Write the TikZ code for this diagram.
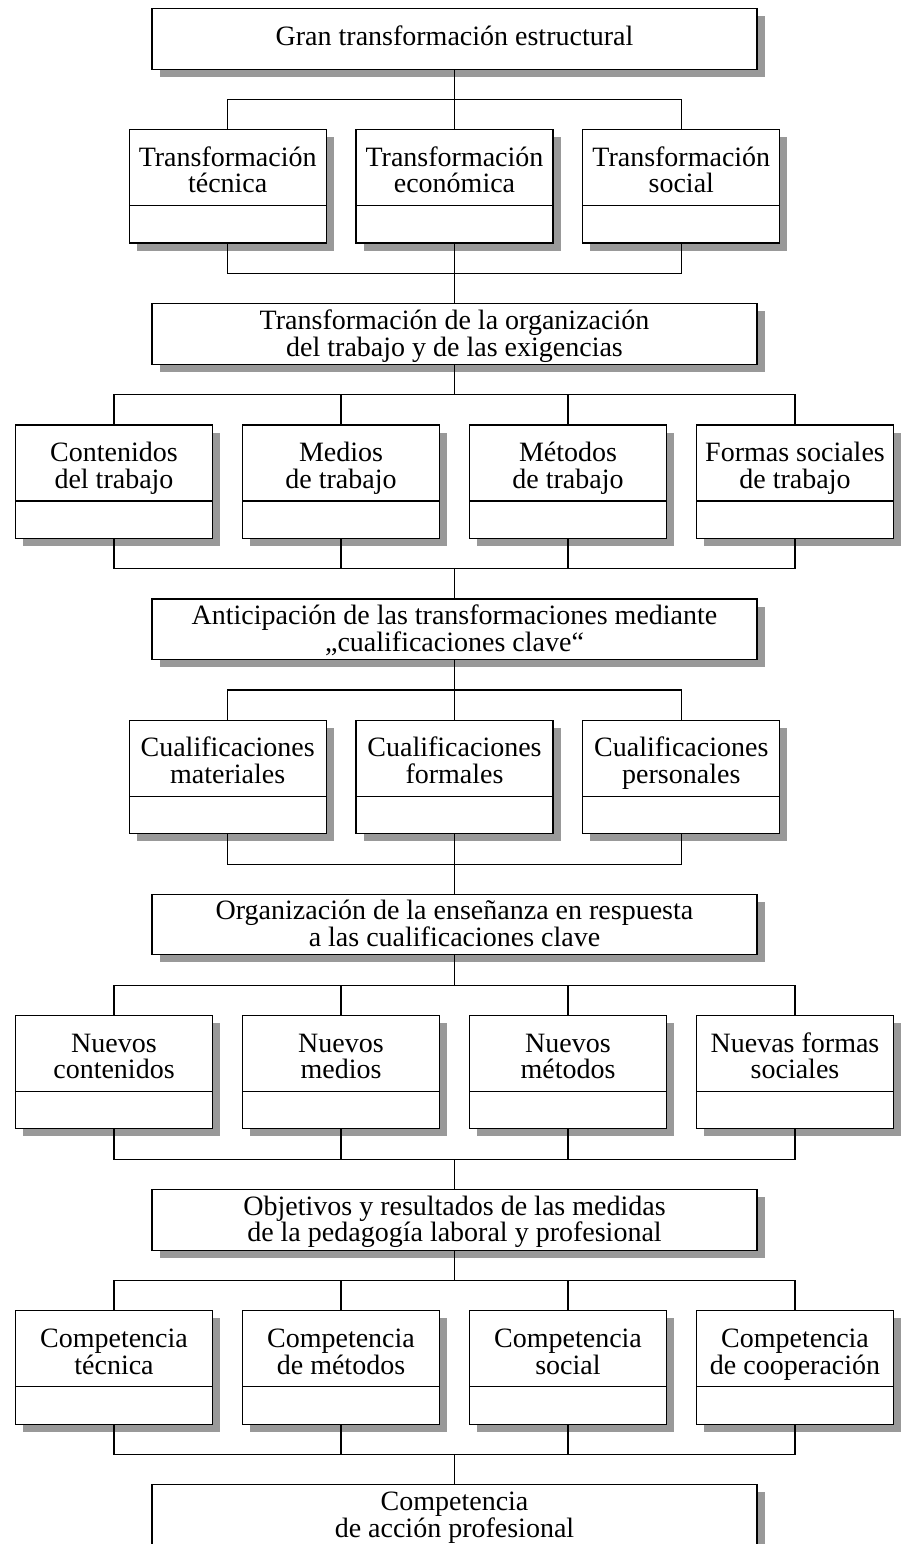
\documentclass[tikz,border=0pt]{standalone}
\usepackage{fontspec}
\setmainfont{Liberation Serif}
\usetikzlibrary{positioning,shadows}
\newcommand{\itemstrut}{\rule{0pt}{36.5pt}}
\newcommand{\stagestrut}{\rule{0pt}{25.6pt}}
\newcommand{\onestrut}{\rule{0pt}{36.4pt}}
\tikzset{
  every node/.style={font=\fontsize{28}{26.7}\selectfont},
  boxshadow/.style={drop shadow={shadow xshift=7.5pt,shadow yshift=-7.5pt,fill=black!40,opacity=1}},
  stagebox/.style={draw,line width=1.1pt,fill=white,boxshadow,outer sep=0pt,inner sep=0pt,minimum width=605pt,minimum height=60.5pt,align=center},
  stage/.style={stagebox,execute at end node={\rule[-8.2pt]{0pt}{8.2pt}}},
  stageone/.style={stagebox,execute at end node={\rule[-24.1pt]{0pt}{24.1pt}}},
  item/.style={draw,line width=1.1pt,fill=white,boxshadow,outer sep=0pt,inner sep=0pt,minimum width=197pt,minimum height=76pt,align=center,
    execute at end node={\rule[-12.8pt]{0pt}{12.8pt}}},
  itemfoot/.style={draw,line width=1.1pt,fill=white,boxshadow,outer sep=0pt,inner sep=0pt,minimum width=197pt,minimum height=37.3pt},
  link/.style={line width=1.1pt}
}
\begin{document}
\begin{tikzpicture}[x=1pt,y=1pt]
  \useasboundingbox (0,0) rectangle (907,-1544);

  % stages
  \node[stageone] (gran) at (454.5,-39) {\onestrut Gran transformación estructural};
  \node[stage] (org) at (454.5,-333.95) {\stagestrut Transformación de la organización\\del trabajo y de las exigencias};
  \node[stage] (anticip) at (454.5,-629.25) {\stagestrut Anticipación de las transformaciones mediante\\„cualificaciones clave“};
  \node[stage] (ensenanza) at (454.5,-924.55) {\stagestrut Organización de la enseñanza en respuesta\\a las cualificaciones clave};
  \node[stage] (objetivos) at (454.5,-1219.85) {\stagestrut Objetivos y resultados de las medidas\\de la pedagogía laboral y profesional};
  \node[stage] (accion) at (454.5,-1515.15) {\stagestrut Competencia\\de acción profesional};

  % rows of items
  \node[item] (tecnica) at (227.7,-167.7) {\itemstrut Transformación\\técnica};
  \node[item] (economica) at (454.5,-167.7) {\itemstrut Transformación\\económica};
  \node[item] (social) at (681.3,-167.7) {\itemstrut Transformación\\social};

  \node[item] (contenidos) at (114,-463) {\itemstrut Contenidos\\del trabajo};
  \node[item] (medios) at (341,-463) {\itemstrut Medios\\de trabajo};
  \node[item] (metodos) at (568,-463) {\itemstrut Métodos\\de trabajo};
  \node[item] (formas) at (795,-463) {\itemstrut Formas sociales\\de trabajo};

  \node[item] (materiales) at (227.7,-758.3) {\itemstrut Cualificaciones\\materiales};
  \node[item] (formales) at (454.5,-758.3) {\itemstrut Cualificaciones\\formales};
  \node[item] (personales) at (681.3,-758.3) {\itemstrut Cualificaciones\\personales};

  \node[item] (ncontenidos) at (114,-1053.6) {\itemstrut Nuevos\\contenidos};
  \node[item] (nmedios) at (341,-1053.6) {\itemstrut Nuevos\\medios};
  \node[item] (nmetodos) at (568,-1053.6) {\itemstrut Nuevos\\métodos};
  \node[item] (nformas) at (795,-1053.6) {\itemstrut Nuevas formas\\sociales};

  \node[item] (ctecnica) at (114,-1348.9) {\itemstrut Competencia\\técnica};
  \node[item] (cmetodos) at (341,-1348.9) {\itemstrut Competencia\\de métodos};
  \node[item] (csocial) at (568,-1348.9) {\itemstrut Competencia\\social};
  \node[item] (ccooperacion) at (795,-1348.9) {\itemstrut Competencia\\de cooperación};

  \foreach \n in {tecnica,economica,social,contenidos,medios,metodos,formas,materiales,formales,personales,ncontenidos,nmedios,nmetodos,nformas,ctecnica,cmetodos,csocial,ccooperacion}
    \node[itemfoot,below=0pt of \n] (\n-f) {};

  % connectors
  \foreach \c in {tecnica,economica,social} {
    \draw[link] (gran.south) -- ++(0,-30.5) -| (\c.north);
    \draw[link] (\c-f.south) -- ++(0,-30.5) -| (org.north);
  }
  \foreach \c in {contenidos,medios,metodos,formas} {
    \draw[link] (org.south) -- ++(0,-30.5) -| (\c.north);
    \draw[link] (\c-f.south) -- ++(0,-30.5) -| (anticip.north);
  }
  \foreach \c in {materiales,formales,personales} {
    \draw[link] (anticip.south) -- ++(0,-30.5) -| (\c.north);
    \draw[link] (\c-f.south) -- ++(0,-30.5) -| (ensenanza.north);
  }
  \foreach \c in {ncontenidos,nmedios,nmetodos,nformas} {
    \draw[link] (ensenanza.south) -- ++(0,-30.5) -| (\c.north);
    \draw[link] (\c-f.south) -- ++(0,-30.5) -| (objetivos.north);
  }
  \foreach \c in {ctecnica,cmetodos,csocial,ccooperacion} {
    \draw[link] (objetivos.south) -- ++(0,-30.5) -| (\c.north);
    \draw[link] (\c-f.south) -- ++(0,-30.5) -| (accion.north);
  }
\end{tikzpicture}
\end{document}
